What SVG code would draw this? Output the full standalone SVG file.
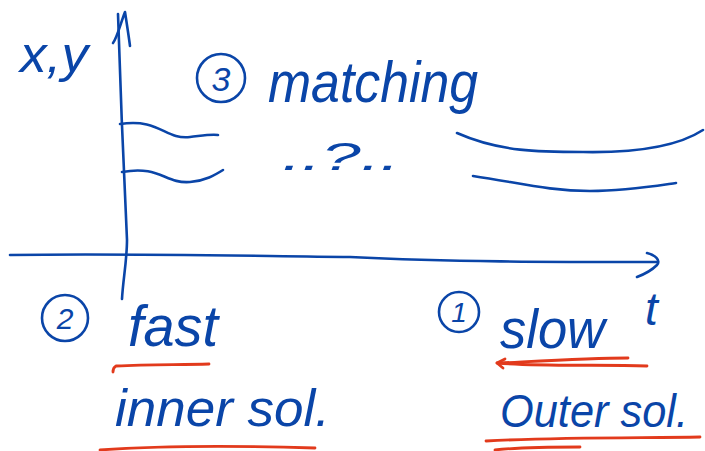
<svg xmlns="http://www.w3.org/2000/svg" width="705" height="451" viewBox="0 0 705 451">
<style>
.b{fill:none;stroke:#0a45a8;stroke-width:2.6;stroke-linecap:round;stroke-linejoin:round}
.r{fill:none;stroke:#e23a1c;stroke-width:2.8;stroke-linecap:round;stroke-linejoin:round}
.t{fill:#0a45a8;font-family:"Liberation Sans","DejaVu Sans",sans-serif;font-style:italic}
</style>
<rect width="705" height="451" fill="#fff"/>
<g id="connectors">
<path id="y-axis" class="b" d="M118,14 C120,80 124,180 127,240 C127,260 123,280 122,299"/>
<path id="y-arrow" class="b" d="M113,43 C117,38 121,22 125,12 C127,25 129,38 130,46"/>
<path id="x-axis" class="b" d="M10,255 C120,253 250,256 350,257 C450,262 550,262 657,262"/>
<path id="x-arrow" class="b" d="M647,253 C655,255 661,260 657,265 C652,270 645,274 637,277"/>
<path class="b" d="M120,124 C160,118 165,140 190,137 C200,136 210,134 218,135"/>
<path class="b" d="M122,172 C160,165 165,184 190,182 C205,181 215,175 223,170"/>
<path class="b" d="M457,133 C500,152 540,152 583,152 C640,153 680,145 703,130"/>
<path class="b" d="M473,176 C520,183 550,191 590,191 C625,191 655,186 676,183"/>
<path class="r" d="M113,372 C113,369 114,367 116,366 C150,364 180,365 209,364"/>
<path class="r" d="M100,450 C170,445 250,446 315,448"/>
<path class="r" d="M499,363 C540,361 590,358 628,358"/>
<path class="r" d="M497,363 C545,367 600,364 647,366"/>
<path class="r" d="M505,359 L497,363 L503,368"/>
<path class="r" d="M486,441 C560,437 640,438 700,437"/>
<path class="r" d="M495,450 C520,447 550,447 580,447"/>
</g>
<g id="label-xy"><text class="t" x="20" y="72" font-size="50" textLength="68" lengthAdjust="spacingAndGlyphs">x,y</text></g>
<g id="step3">
<circle class="b" cx="221" cy="78" r="24"/>
<text class="t" x="221" y="91" font-size="34" text-anchor="middle">3</text>
<text class="t" x="268" y="102" font-size="58" textLength="210" lengthAdjust="spacingAndGlyphs">matching</text>
</g>
<g id="gap"><text class="t" x="282" y="170" font-size="38" textLength="118" lengthAdjust="spacingAndGlyphs">..?..</text></g>
<g id="step2">
<circle class="b" cx="65" cy="318" r="23"/>
<text class="t" x="65" y="329" font-size="30" text-anchor="middle">2</text>
<text class="t" x="128" y="346" font-size="58" textLength="90" lengthAdjust="spacingAndGlyphs">fast</text>
<text class="t" x="115" y="426" font-size="52" textLength="215" lengthAdjust="spacingAndGlyphs">inner sol.</text>
</g>
<g id="step1">
<circle class="b" cx="459" cy="312" r="20"/>
<text class="t" x="459" y="322" font-size="28" text-anchor="middle">1</text>
<text class="t" x="500" y="348" font-size="56" textLength="105" lengthAdjust="spacingAndGlyphs">slow</text>
<text class="t" x="500" y="427" font-size="46" textLength="188" lengthAdjust="spacingAndGlyphs">Outer sol.</text>
</g>
<g id="label-t"><text class="t" x="645" y="325" font-size="46">t</text></g>
</svg>
